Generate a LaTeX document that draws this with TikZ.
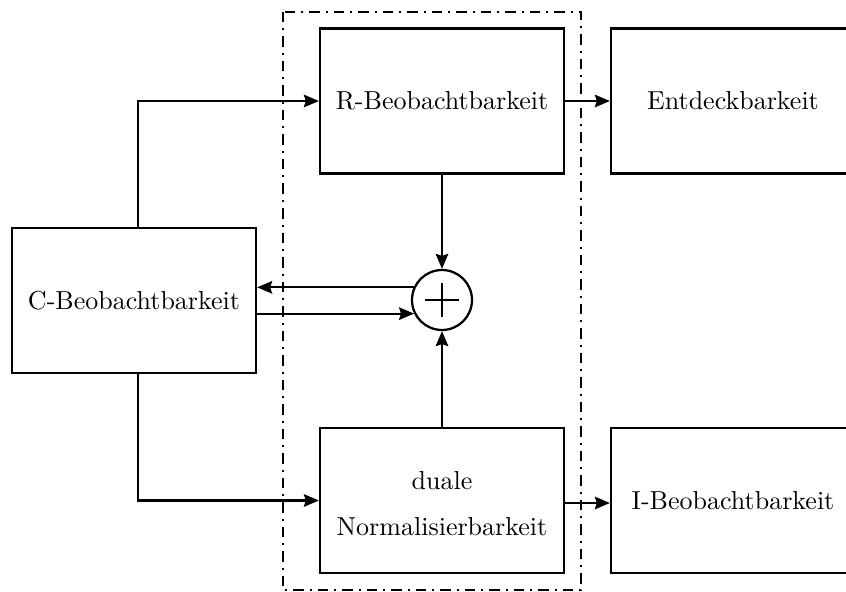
\documentclass[tikz,border=0pt]{standalone}
\usetikzlibrary{arrows.meta,calc}

\begin{document}
\begin{tikzpicture}[
    x=0.4pt, y=-0.4pt,
    line width=0.9pt,
    blockbox/.style={draw, rectangle, minimum width=97.6pt, minimum height=58pt,
                     inner sep=0pt, align=center, font=\fontsize{10.4}{12.5}\selectfont},
    sumnode/.style={draw, circle, minimum size=24pt, inner sep=0pt},
    flow/.style={-{Stealth[length=6pt,width=5pt,inset=0.8pt]}},
    frame/.style={dash pattern=on 4.2pt off 2.4pt on 0.8pt off 2.4pt},
  ]
  % page area; the right-hand blocks run past the edge
  \clip (0,0) rectangle (846,592);

  % grouping frame around the two central blocks
  \draw[frame] (283,12) rectangle (581,590);

  % blocks
  \node[blockbox] (R) at (442,101)     {R-Beobachtbarkeit};
  \node[blockbox] (C) at (134,300.5)   {C-Beobachtbarkeit};
  \node[blockbox] (D) at (442,500.5)   {};
  \node[align=center, font=\fontsize{10.4}{12.5}\selectfont] (Dt) at (442,503.5)
       {duale\\[5.6pt]Normalisierbarkeit};
  \node[blockbox] (E) at (733,101)     {Entdeckbarkeit};
  \node[blockbox] (I) at (733,500.5)   {I-Beobachtbarkeit};

  % summing junction
  \node[sumnode] (S) at (442,300) {};
  \draw ($(S.center)+(-6.8pt,0)$) -- ($(S.center)+(6.8pt,0)$);
  \draw ($(S.center)+(0,-6.8pt)$) -- ($(S.center)+(0,6.8pt)$);

  % branch points on the C block
  \coordinate (Ct) at ([xshift=1.5pt]C.north);
  \coordinate (Cb) at ([xshift=1.5pt]C.south);

  % connectors
  \draw[flow] (Ct) |- (R.west);
  \draw[flow] (Cb) |- (D.west);
  \draw[flow] (R.south) -- (S.north);
  \draw[flow] (D.north) -- (S.south);
  \draw[flow] (S.156) -- (S.156 -| C.east);
  \draw[flow] (S.206 -| C.east) -- (S.206);
  \draw[flow] (R.east) -- (E.west);
  \draw[flow] ([yshift=-1pt]D.east) -- ([yshift=-1pt]I.west);
\end{tikzpicture}
\end{document}
